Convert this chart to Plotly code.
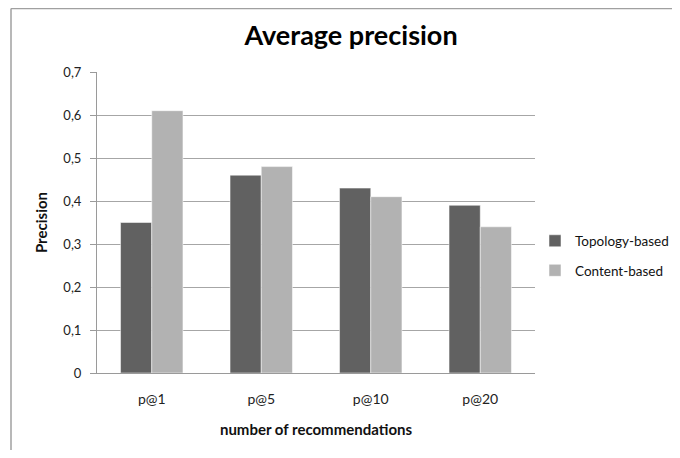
import plotly.graph_objects as go

categories = ["p@1", "p@5", "p@10", "p@20"]
topology = [0.35, 0.46, 0.43, 0.39]
content = [0.61, 0.48, 0.41, 0.34]
y_ticks = [0, 0.1, 0.2, 0.3, 0.4, 0.5, 0.6, 0.7]
y_ticktext = ["0", "0,1", "0,2", "0,3", "0,4", "0,5", "0,6", "0,7"]

FONT = "Lato"
OFF = 8  # page body margin
W, H = 680 - 2 * OFF, 458 - 2 * OFF
L, T = 97 - OFF, 72 - OFF
LEG_X = 535 - OFF          # legend left edge in figure px
R_TARGET = W - (535 - OFF)
R = max(R_TARGET - (W - LEG_X), 0)
B = H - (373 - OFF)
pw, ph = W - L - R_TARGET, H - T - B

def px_x(x):  # page pixel -> paper
    return (x - OFF - L) / pw

def px_y(y):
    return (H - B - (y - OFF)) / ph

fig = go.Figure()
fig.add_trace(go.Bar(x=categories, y=topology, name="Topology-based", legendgroup="a",
                     marker=dict(color="#616161", line=dict(color="#ffffff", width=0.5))))
fig.add_trace(go.Bar(x=categories, y=content, name="Content-based", legendgroup="b",
                     marker=dict(color="#b2b2b2", line=dict(color="#ffffff", width=0.5))))

fig.update_layout(
    width=W, height=H,
    margin=dict(l=L, r=R, t=T, b=B),
    paper_bgcolor="white", plot_bgcolor="white",
    barmode="group", bargap=0.43, bargroupgap=0,
    font=dict(family=FONT, size=13, color="#222222"),
    title=dict(text="<b>Average precision</b>", x=(351 - OFF) / W, xref="container",
               xanchor="center", y=1 - (36 - OFF) / H, yanchor="middle",
               font=dict(family=FONT, size=27, color="#000000")),
    legend=dict(x=LEG_X / W, y=px_y(256), xref="container", yref="paper",
                xanchor="left", yanchor="middle", traceorder="grouped", tracegroupgap=9,
                font=dict(family=FONT, size=13.5, color="#111111"), itemwidth=30,
                bgcolor="rgba(0,0,0,0)"),
    xaxis=dict(showline=True, linecolor="#9a9a9a", linewidth=1, ticks="", showgrid=False,
               ticklabelstandoff=13,
               tickfont=dict(family=FONT, size=14, color="#222222"),
               title=dict(text="<b>number of recommendations</b>", standoff=18,
                          font=dict(family=FONT, size=15, color="#111111"))),
    yaxis=dict(range=[0, 0.7], tickvals=y_ticks, ticktext=y_ticktext,
               showline=True, linecolor="#9a9a9a", linewidth=1,
               ticks="outside", ticklen=6, tickcolor="#9a9a9a", ticklabelstandoff=6,
               showgrid=True, gridcolor="#a6a6a6", gridwidth=1, zeroline=False,
               tickfont=dict(family=FONT, size=13, color="#222222"),
               title=dict(text="<b>Precision</b>", standoff=12,
                          font=dict(family=FONT, size=15, color="#111111"))),
    shapes=[
        dict(type="line", xref="paper", yref="paper", x0=px_x(11), x1=px_x(760),
             y0=px_y(OFF + 0.5), y1=px_y(OFF + 0.5), line=dict(color="#a0a0a0", width=1.5)),
        dict(type="line", xref="paper", yref="paper", x0=px_x(11), x1=px_x(11),
             y0=px_y(OFF + 0.5), y1=px_y(480), line=dict(color="#a0a0a0", width=1.5)),
    ],
)

fig.write_html("out.html")
